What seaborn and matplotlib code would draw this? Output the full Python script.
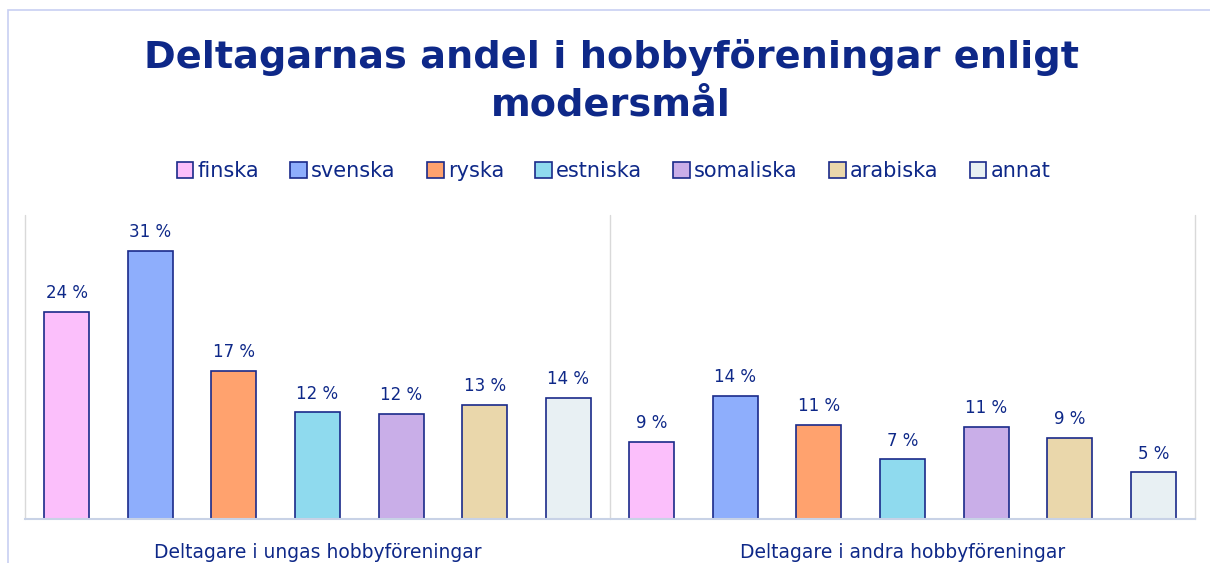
import pandas as pd
import matplotlib.pyplot as plt
import seaborn as sns
from matplotlib.patches import Rectangle

groups = ["Deltagare i ungas hobbyföreningar", "Deltagare i andra hobbyföreningar"]
languages = ["finska", "svenska", "ryska", "estniska", "somaliska", "arabiska", "annat"]
ungas = [23.9, 31.0, 17.1, 12.3, 12.1, 13.2, 14.0]
andra = [8.9, 14.2, 10.9, 6.9, 10.6, 9.4, 5.4]
colors = ["#FBBFFB", "#8EAEFC", "#FFA26E", "#8FDAEE", "#C9AEE8", "#EAD7AB", "#E8F0F3"]

navy = "#0E2888"
edge = "#1A2A8A"

df = pd.DataFrame({
    "grupp": [groups[0]] * len(languages) + [groups[1]] * len(languages),
    "sprak": languages * 2,
    "andel": ungas + andra,
})

sns.set_style("white")
plt.rcParams["font.family"] = ["DejaVu Sans"]

fig = plt.figure(figsize=(12.1, 5.63), dpi=100)
fig.patches.append(Rectangle((8 / 1210, -0.1), 1.2, (563 - 10) / 563 + 0.1,
                             transform=fig.transFigure, fill=False,
                             edgecolor="#C8CFF2", linewidth=1.2))

ax = fig.add_axes([25 / 1210, 44 / 563, 1170 / 1210, 304 / 563])
sns.barplot(data=df, x="grupp", y="andel", hue="sprak", hue_order=languages,
            order=groups, palette=colors, saturation=1, width=1.0, gap=0.46,
            edgecolor=edge, linewidth=1.2, legend=False, ax=ax)

for cont in ax.containers:
    ax.bar_label(cont, labels=[f"{v:.0f} %" for v in cont.datavalues],
                 padding=7, color=navy, fontsize=12)

ax.set_xlim(-0.5, 1.5)
ax.set_ylim(0, 35.1)
ax.set_yticks([])
ax.set_xlabel("")
ax.set_ylabel("")
for s in ["top", "right", "left"]:
    ax.spines[s].set_visible(False)
ax.spines["bottom"].set_color("#C8D2E6")
ax.spines["bottom"].set_linewidth(1.5)
for xv in [-0.5, 0.5, 1.5]:
    ax.axvline(xv, color="#D9D9D9", linewidth=1, zorder=0, clip_on=False)
ax.tick_params(axis="x", length=0, pad=17, labelsize=13.5, labelcolor=navy)

fig.text(0.505, 0.856, "Deltagarnas andel i hobbyföreningar enligt\nmodersmål",
         ha="center", va="center", fontsize=27.5, fontweight="bold",
         color=navy, linespacing=1.4)

handles = [Rectangle((0, 0), 1, 1, facecolor=c, edgecolor=edge, linewidth=1.2)
           for c in colors]
fig.legend(handles, languages, loc="center", bbox_to_anchor=(0.507, 0.696),
           ncol=7, frameon=False, fontsize=15, labelcolor=navy,
           handlelength=0.8, handleheight=0.8, handletextpad=0.2,
           columnspacing=1.5)

fig.savefig("out.png", dpi=100)
